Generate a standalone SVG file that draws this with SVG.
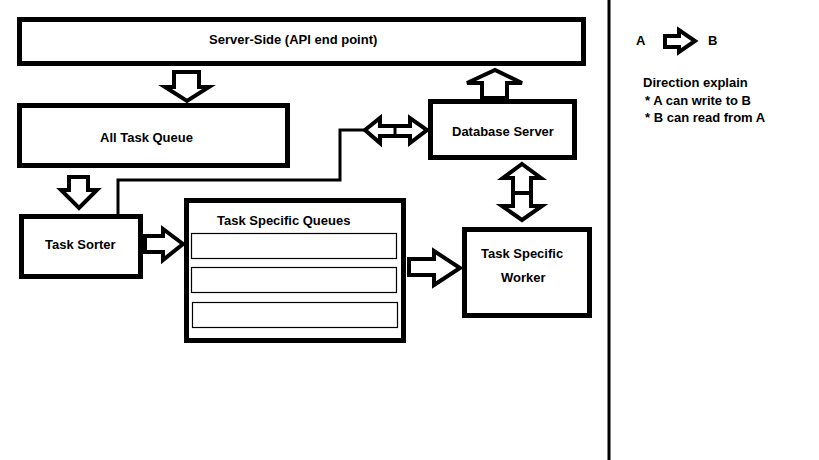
<svg xmlns="http://www.w3.org/2000/svg" width="819" height="460" viewBox="0 0 819 460">
<style>
.box{fill:#fff;stroke:#000;stroke-width:5}
.inner{fill:#fff;stroke:#000;stroke-width:1.2}
.arr{fill:#fff;stroke:#000;stroke-width:4;stroke-linejoin:miter}
.ln{fill:none;stroke:#000;stroke-width:3}
text{font-family:"Liberation Sans",Arial,sans-serif;font-weight:bold;font-size:13px;fill:#000}
</style>
<rect width="819" height="460" fill="#fff"/>
<g id="server-side">
<rect class="box" x="19.5" y="19.5" width="564" height="44"/>
<text x="209" y="44">Server-Side (API end point)</text>
</g>
<g id="all-task-queue">
<rect class="box" x="19.5" y="105.5" width="268" height="60"/>
<text x="100" y="142">All Task Queue</text>
</g>
<g id="task-sorter">
<rect class="box" x="21.5" y="216.5" width="119" height="60"/>
<text x="45" y="249">Task Sorter</text>
</g>
<g id="task-specific-queues">
<rect class="box" x="186.5" y="200.5" width="217" height="140"/>
<text x="217" y="225">Task Specific Queues</text>
<rect class="inner" x="191.5" y="233.5" width="205" height="25"/>
<rect class="inner" x="191.5" y="267.5" width="205" height="25"/>
<rect class="inner" x="192.5" y="302.5" width="205" height="25"/>
</g>
<g id="database-server">
<rect class="box" x="430.5" y="101.5" width="144" height="56"/>
<text x="452" y="136">Database Server</text>
</g>
<g id="task-specific-worker">
<rect class="box" x="464.5" y="229.5" width="125" height="86"/>
<text x="481" y="258">Task Specific</text>
<text x="501" y="282">Worker</text>
</g>
<g id="connectors">
<polygon class="arr" points="174,72 199,72 199,87 209,87 187,101 165,87 174,87"/>
<polygon class="arr" points="69,177 88,177 88,190 97,190 79,208 61,190 69,190"/>
<polygon class="arr" points="482,98 482,83 467,83 495,70 522,83 507,83 507,98"/>
<polyline class="ln" points="118,214 118,180 340,180 340,130 364,130"/>
<polygon class="arr" points="365,130 380,118 380,126 410,126 410,118 427,130 410,143 410,136 380,136 380,143" stroke-width="3.5"/>
<line x1="395" y1="126" x2="395" y2="136" stroke="#000" stroke-width="3"/>
<polygon class="arr" points="522,164 541,178 531,178 531,206 542,206 522,220 502,206 513,206 513,178 503,178"/>
<line x1="513" y1="193" x2="531" y2="193" stroke="#000" stroke-width="4"/>
<polygon class="arr" points="145,236 163,236 163,229 183,244 163,260 163,252 145,252"/>
<polygon class="arr" points="409,259 434,259 434,251 460,268 434,285 434,275 409,275"/>
</g>
<g id="divider">
<line x1="609" y1="0" x2="609" y2="460" stroke="#000" stroke-width="3"/>
</g>
<g id="legend">
<text x="636" y="45">A</text>
<polygon class="arr" points="665,36 679,36 679,30 695,41 679,52 679,47 665,47" stroke-width="3"/>
<text x="708" y="45">B</text>
<text x="643" y="87">Direction explain</text>
<text x="645" y="105">* A can write to B</text>
<text x="645" y="122">* B can read from A</text>
</g>
</svg>
